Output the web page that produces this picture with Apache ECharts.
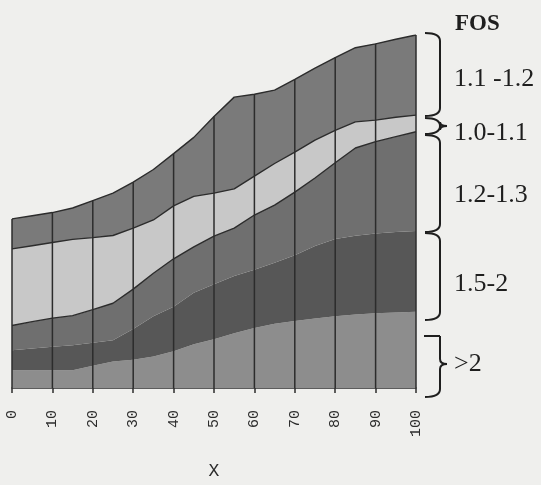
<!DOCTYPE html>
<html>
<head>
<meta charset="utf-8">
<script src="https://cdn.jsdelivr.net/npm/echarts@6/dist/echarts.min.js"></script>
<style>
html,body{margin:0;padding:0;background:#efefed;}
#chart{width:541px;height:485px;}
</style>
</head>
<body>
<div id="chart"></div>
<script>
// x positions of the data points
const xs = [0,5,10,15,20,25,30,35,40,45,50,55,60,65,70,75,80,85,90,95,100];
// layer thicknesses (stacked bottom to top)
const fosGt2   = [5.0,5.0,5.0,5.0,6.3,7.5,8.0,8.9,10.4,12.4,13.8,15.5,17.0,18.2,19.0,19.7,20.3,20.8,21.2,21.4,21.6];
const fos15to2 = [5.7,6.2,6.7,7.1,6.5,6.0,8.7,11.4,12.6,14.6,15.6,16.2,16.5,17.3,18.6,20.5,21.9,22.3,22.6,22.8,22.9];
const fos12to13= [7.0,7.6,8.1,8.4,9.4,10.5,11.3,12.2,13.6,13.0,13.6,13.6,15.5,16.3,17.9,19.3,21.6,24.9,26.0,27.0,28.1];
const fos10to11= [21.7,21.5,21.4,21.6,20.4,19.2,17.3,15.1,15.0,14.3,12.2,11.1,11.0,11.8,11.3,10.7,9.2,7.4,6.1,5.5,4.7];
const fos11to12= [8.5,8.5,8.5,8.9,10.5,12.0,13.0,14.3,14.8,16.7,21.7,26.0,23.2,20.8,20.6,20.4,20.6,21.0,21.6,22.1,22.7];
const xTicks = [0,10,20,30,40,50,60,70,80,90,100];
const layerNames = ['>2','1.5-2','1.2-1.3','1.0-1.1','1.1 -1.2'];

const layers = [fosGt2, fos15to2, fos12to13, fos10to11, fos11to12];
const colors = ['#8d8d8d','#575757','#6f6f6f','#c8c8c8','#7a7a7a'];
const withLine = [false,false,true,true,true];

const series = layers.map((arr,i)=>({
  type:'line',
  name: layerNames[i],
  stack:'total',
  data: arr,
  showSymbol:false,
  symbol:'none',
  smooth:false,
  lineStyle: withLine[i] ? {color:'#2c2c2c', width:1.4} : {width:0, opacity:0},
  areaStyle:{color:colors[i], opacity:1},
  z:2
}));

const totals = xTicks.map(x=>{
  const j = xs.indexOf(x);
  return [j, layers.reduce((s,a)=>s+a[j],0)];
});

series.push({
  type:'custom',
  data: totals,
  z:10,
  renderItem:function(params, api){
    const p0 = api.coord([api.value(0),0]);
    const p1 = api.coord([api.value(0),api.value(1)]);
    return {type:'line', shape:{x1:p0[0],y1:p0[1],x2:p1[0],y2:p1[1]},
      style:{stroke:'#2c2c2c', lineWidth:1.5}};
  }
});

// braces
const X0 = 425, X1 = 440, XT = 447, R = 8;
function brace(y0, y1, tipY, flatTop){
  const els = [];
  const st = {stroke:'#1e1e1e', lineWidth:2, fill:null};
  let yStart;
  if (flatTop){
    els.push({type:'line', shape:{x1:X0-1,y1:y0,x2:X1,y2:y0}, style:st});
    yStart = y0;
  } else {
    els.push({type:'bezierCurve', shape:{x1:X0,y1:y0,cpx1:X1,cpy1:y0,x2:X1,y2:y0+R}, style:st});
    yStart = y0+R;
  }
  if (tipY != null){
    const h = Math.min(5,(y1-y0)/4);
    els.push({type:'line', shape:{x1:X1,y1:yStart,x2:X1,y2:tipY-h}, style:st});
    els.push({type:'bezierCurve', shape:{x1:X1,y1:tipY-h,cpx1:X1,cpy1:tipY,x2:XT,y2:tipY}, style:st});
    els.push({type:'bezierCurve', shape:{x1:XT,y1:tipY,cpx1:X1,cpy1:tipY,x2:X1,y2:tipY+h}, style:st});
    els.push({type:'line', shape:{x1:X1,y1:tipY+h,x2:X1,y2:y1-R}, style:st});
  } else {
    els.push({type:'line', shape:{x1:X1,y1:yStart,x2:X1,y2:y1-R}, style:st});
  }
  els.push({type:'bezierCurve', shape:{x1:X1,y1:y1-R,cpx1:X1,cpy1:y1,x2:X0,y2:y1}, style:st});
  return els;
}

const graphics = [].concat(
  brace(33,116,null,false),
  brace(118,134,126,false),
  brace(135,232,null,false),
  brace(233,320,null,false),
  brace(336,397,364,true)
);
const labelY = [79,133,195,284,364];
const labelTexts = ['1.1 -1.2','1.0-1.1','1.2-1.3','1.5-2','>2'];
labelTexts.forEach((t,i)=>{
  graphics.push({type:'text', x:454, y:labelY[i], style:{text:t, fontFamily:'Liberation Serif', fontSize:26, fill:'#1e1e1e', align:'left', verticalAlign:'middle'}});
});
graphics.push({type:'text', x:455, y:24, style:{text:'FOS', fontFamily:'Liberation Serif', fontWeight:'bold', fontSize:23, fill:'#1e1e1e', align:'left', verticalAlign:'middle'}});

const chart = echarts.init(document.getElementById('chart'));
chart.setOption({
  backgroundColor:'#efefed',
  animation:false,
  grid:{left:12, right:125, top:35, bottom:84, containLabel:false},
  xAxis:{
    type:'category', data: xs.map(String), boundaryGap:false,
    name:'X', nameLocation:'middle', nameGap:74,
    nameTextStyle:{fontFamily:'Liberation Mono', fontSize:18, color:'#2c2c2c'},
    axisLine:{show:true, onZero:false, lineStyle:{color:'#2c2c2c', width:1.5}},
    axisTick:{show:true, length:5, interval:1, lineStyle:{color:'#2c2c2c', width:1.5}},
    axisLabel:{rotate:90, margin:22, interval:1, fontFamily:'Liberation Mono', fontSize:15, color:'#2c2c2c'},
    splitLine:{show:false}
  },
  yAxis:{type:'value', min:0, max:100, show:false},
  series: series,
  graphic: graphics
});
</script>
</body>
</html>
